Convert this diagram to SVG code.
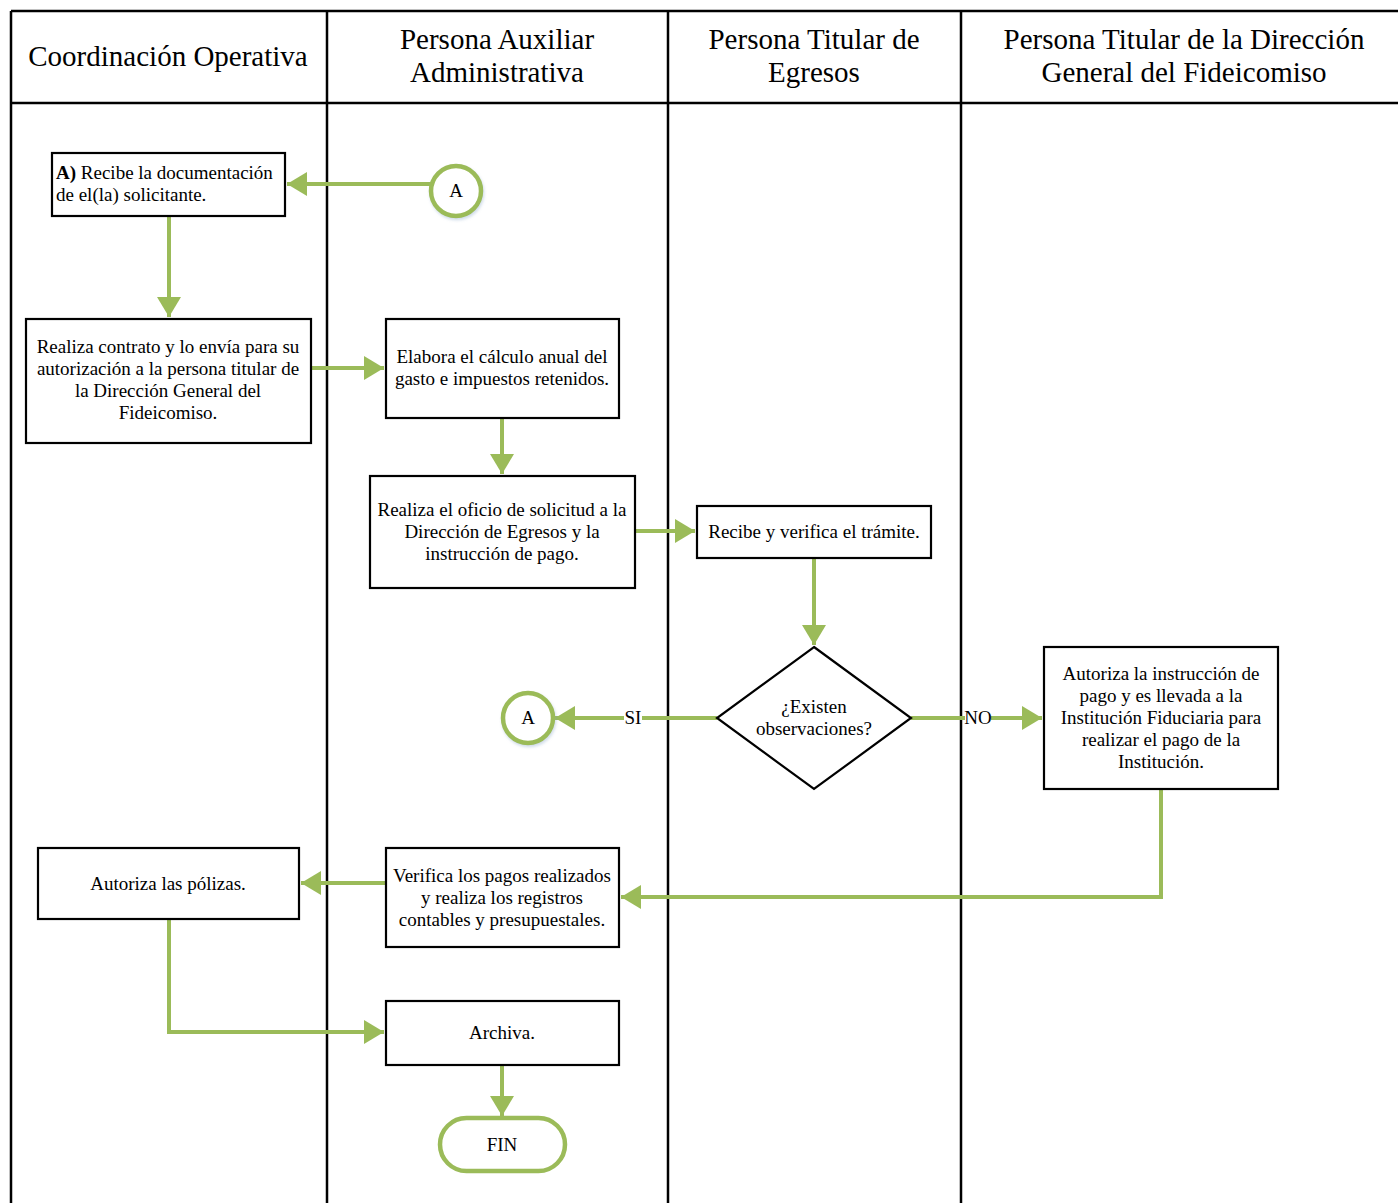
<svg xmlns="http://www.w3.org/2000/svg" width="1398" height="1203" viewBox="0 0 1398 1203">
<style>
  .lane{fill:none;stroke:#000;stroke-width:2.5}
  .hdr{font-family:"Liberation Serif",serif;font-size:29px;fill:#000;text-anchor:middle}
  .box{fill:#fff;stroke:#000;stroke-width:2.2}
  .t{font-family:"Liberation Serif",serif;font-size:19px;fill:#000;text-anchor:middle}
  .tl{font-family:"Liberation Serif",serif;font-size:19px;fill:#000}
  .circ{fill:#fff;stroke:#9BBB59;stroke-width:4.5}
  .con{fill:none;stroke:#9BBB59;stroke-width:4;stroke-linejoin:miter}
  .lbl{font-family:"Liberation Serif",serif;font-size:19px;fill:#000;text-anchor:middle}
</style>
<defs>
  <marker id="ah" markerUnits="userSpaceOnUse" markerWidth="22" markerHeight="24" refX="20" refY="12" orient="auto">
    <path d="M0,0 L20,12 L0,24 Z" fill="#9BBB59"/>
  </marker>
  <filter id="sh" x="-30%" y="-30%" width="160%" height="160%">
    <feDropShadow dx="1" dy="2" stdDeviation="1.5" flood-color="#7a9ac0" flood-opacity="0.35"/>
  </filter>
</defs>
<rect width="1398" height="1203" fill="#fff"/>

<g id="lanes">
  <line class="lane" x1="11" y1="11" x2="1398" y2="11"/>
  <line class="lane" x1="11" y1="103" x2="1398" y2="103"/>
  <line class="lane" x1="11" y1="11" x2="11" y2="1203"/>
  <line class="lane" x1="327" y1="11" x2="327" y2="1203"/>
  <line class="lane" x1="668" y1="11" x2="668" y2="1203"/>
  <line class="lane" x1="961" y1="11" x2="961" y2="1203"/>
  <text class="hdr" x="168" y="66">Coordinación Operativa</text>
  <text class="hdr" x="497" y="49">Persona Auxiliar</text>
  <text class="hdr" x="497" y="82">Administrativa</text>
  <text class="hdr" x="814" y="49">Persona Titular de</text>
  <text class="hdr" x="814" y="82">Egresos</text>
  <text class="hdr" x="1184" y="49">Persona Titular de la Dirección</text>
  <text class="hdr" x="1184" y="82">General del Fideicomiso</text>
</g>

<g id="connectors">
  <path class="con" d="M431,184 L287,184" marker-end="url(#ah)"/>
  <path class="con" d="M169,216 L169,317" marker-end="url(#ah)"/>
  <path class="con" d="M311,368 L384,368" marker-end="url(#ah)"/>
  <path class="con" d="M502,418 L502,474" marker-end="url(#ah)"/>
  <path class="con" d="M635,531 L695,531" marker-end="url(#ah)"/>
  <path class="con" d="M814,558 L814,645" marker-end="url(#ah)"/>
  <path class="con" d="M717,718 L642,718 M624,718 L555,718" marker-end="url(#ah)"/>
  <path class="con" d="M911,718 L965,718 M991,718 L1042,718" marker-end="url(#ah)"/>
  <path class="con" d="M1161,789 L1161,897 L621,897" marker-end="url(#ah)"/>
  <path class="con" d="M386,883 L301,883" marker-end="url(#ah)"/>
  <path class="con" d="M169,919 L169,1032 L384,1032" marker-end="url(#ah)"/>
  <path class="con" d="M502,1065 L502,1116" marker-end="url(#ah)"/>
  <text class="lbl" x="633" y="724">SI</text>
  <text class="lbl" x="978" y="724">NO</text>
</g>

<g id="n1">
  <rect class="box" x="52" y="153" width="233" height="63"/>
  <text class="tl" x="56" y="179"><tspan font-weight="bold">A)</tspan> Recibe la documentación</text>
  <text class="tl" x="56" y="201">de el(la) solicitante.</text>
</g>
<g id="conA1">
  <circle class="circ" cx="456" cy="191" r="25" filter="url(#sh)"/>
  <text class="t" x="456" y="197">A</text>
</g>
<g id="n2">
  <rect class="box" x="26" y="319" width="285" height="124"/>
  <text class="t" x="168" y="353">Realiza contrato y lo envía para su</text>
  <text class="t" x="168" y="375">autorización a la persona titular de</text>
  <text class="t" x="168" y="397">la Dirección General del</text>
  <text class="t" x="168" y="419">Fideicomiso.</text>
</g>
<g id="n3">
  <rect class="box" x="386" y="319" width="233" height="99"/>
  <text class="t" x="502" y="363">Elabora el cálculo anual del</text>
  <text class="t" x="502" y="385">gasto e impuestos retenidos.</text>
</g>
<g id="n4">
  <rect class="box" x="370" y="476" width="265" height="112"/>
  <text class="t" x="502" y="516">Realiza el oficio de solicitud a la</text>
  <text class="t" x="502" y="538">Dirección de Egresos y la</text>
  <text class="t" x="502" y="560">instrucción de pago.</text>
</g>
<g id="n5">
  <rect class="box" x="697" y="506" width="234" height="52"/>
  <text class="t" x="814" y="538">Recibe y verifica el trámite.</text>
</g>
<g id="n6">
  <polygon class="box" points="814,647 911,718 814,789 717,718"/>
  <text class="t" x="814" y="713">¿Existen</text>
  <text class="t" x="814" y="735">observaciones?</text>
</g>
<g id="conA2">
  <circle class="circ" cx="528" cy="718" r="25" filter="url(#sh)"/>
  <text class="t" x="528" y="724">A</text>
</g>
<g id="n7">
  <rect class="box" x="1044" y="647" width="234" height="142"/>
  <text class="t" x="1161" y="680">Autoriza la instrucción de</text>
  <text class="t" x="1161" y="702">pago y es llevada a la</text>
  <text class="t" x="1161" y="724">Institución Fiduciaria para</text>
  <text class="t" x="1161" y="746">realizar el pago de la</text>
  <text class="t" x="1161" y="768">Institución.</text>
</g>
<g id="n8">
  <rect class="box" x="38" y="848" width="261" height="71"/>
  <text class="t" x="168" y="890">Autoriza las pólizas.</text>
</g>
<g id="n9">
  <rect class="box" x="386" y="848" width="233" height="99"/>
  <text class="t" x="502" y="882">Verifica los pagos realizados</text>
  <text class="t" x="502" y="904">y realiza los registros</text>
  <text class="t" x="502" y="926">contables y presupuestales.</text>
</g>
<g id="n10">
  <rect class="box" x="386" y="1001" width="233" height="64"/>
  <text class="t" x="502" y="1039">Archiva.</text>
</g>
<g id="n11">
  <rect class="circ" x="440" y="1118" width="125" height="53" rx="26.5" ry="26.5"/>
  <text class="t" x="502" y="1151">FIN</text>
</g>
</svg>
